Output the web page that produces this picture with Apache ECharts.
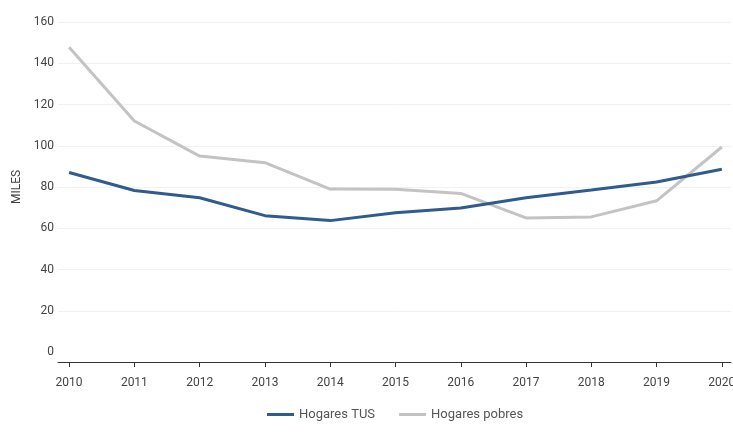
<!DOCTYPE html>
<html>
<head>
<meta charset="utf-8">
<script src="https://cdn.jsdelivr.net/npm/echarts@6.0.0/dist/echarts.min.js"></script>
<style>
  html, body { margin: 0; padding: 0; background: #fff; }
  #chart { width: 733px; height: 443px; }
</style>
</head>
<body>
<div id="chart"></div>
<script>
// years on the x axis
const years = [2010, 2011, 2012, 2013, 2014, 2015, 2016, 2017, 2018, 2019, 2020]
// thousands of households
const hogaresTUS = [87, 78.3, 74.8, 66.1, 63.7, 67.5, 69.8, 74.8, 78.5, 82.4, 88.6]
const hogaresPobres = [147.8, 112, 95, 91.8, 79, 78.9, 76.9, 65, 65.5, 73.3, 99.4]
const yTicks = [0, 20, 40, 60, 80, 100, 120, 140, 160]

const font = '"Roboto", sans-serif'
const toPairs = (vals) => years.map((y, i) => [y, vals[i]])

const chart = echarts.init(document.getElementById('chart'))
chart.setOption({
  animation: false,
  grid: { left: 58, right: 2, top: 22, bottom: 91, outerBoundsMode: 'none' },
  legend: {
    bottom: 17,
    left: 262,
    itemWidth: 27,
    itemHeight: 3,
    itemGap: 24,
    icon: 'rect',
    textStyle: { fontFamily: font, fontSize: 13, color: '#555' },
    data: ['Hogares TUS', 'Hogares pobres']
  },
  xAxis: {
    type: 'value',
    min: 2009.83,
    max: 2020.14,
    offset: 10,
    splitLine: { show: false },
    axisLine: { show: true, onZero: false, lineStyle: { color: '#333', width: 1 } },
    axisTick: { show: true, length: 5, customValues: years, lineStyle: { color: '#333' } },
    axisLabel: {
      customValues: years,
      margin: 15,
      fontFamily: font,
      fontSize: 12,
      color: '#444',
      formatter: (v) => String(v)
    }
  },
  yAxis: {
    type: 'value',
    min: 0,
    max: 160,
    interval: 20,
    name: 'MILES',
    nameLocation: 'middle',
    nameGap: 34,
    nameTextStyle: { fontFamily: font, fontSize: 12, color: '#444' },
    axisLine: { show: false },
    axisTick: { show: false },
    axisLabel: { margin: 4, fontFamily: font, fontSize: 12, color: '#444' },
    splitLine: {
      lineStyle: {
        color: yTicks.map((t) => (t === 0 ? 'rgba(0,0,0,0)' : '#edf2f2')),
        width: 1
      }
    }
  },
  series: [
    {
      name: 'Hogares TUS',
      type: 'line',
      data: toPairs(hogaresTUS),
      symbol: 'none',
      z: 3,
      lineStyle: { color: '#2f5b8e', width: 3 },
      itemStyle: { color: '#2f5b8e' }
    },
    {
      name: 'Hogares pobres',
      type: 'line',
      data: toPairs(hogaresPobres),
      symbol: 'none',
      z: 2,
      lineStyle: { color: '#c3c3c3', width: 3 },
      itemStyle: { color: '#c3c3c3' }
    }
  ]
})
</script>
</body>
</html>
